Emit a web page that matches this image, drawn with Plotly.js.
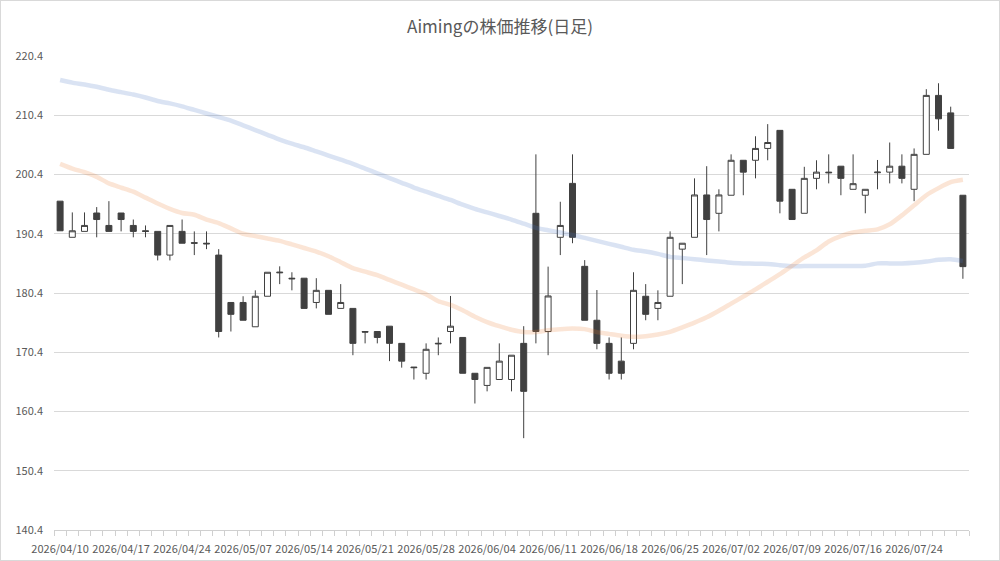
<!DOCTYPE html>
<html>
<head>
<meta charset="utf-8">
<script src="https://cdn.plot.ly/plotly-3.0.1.min.js"></script>
<style>
  html, body { margin:0; padding:0; background:#fff; }
  #wrap { position:relative; width:1000px; height:561px; }
  #chart { width:1000px; height:561px; }
  #frame { position:absolute; left:0; top:0; width:1000px; height:561px; box-sizing:border-box; border:1px solid #d9d9d9; pointer-events:none; }
</style>
</head>
<body>
<div id="wrap"><div id="chart"></div><div id="frame"></div></div>
<script>
const dates = ["2026/04/10","2026/04/13","2026/04/14","2026/04/15","2026/04/16","2026/04/17","2026/04/20","2026/04/21","2026/04/22","2026/04/23","2026/04/24","2026/04/27","2026/04/28","2026/04/30","2026/05/01","2026/05/07","2026/05/08","2026/05/11","2026/05/12","2026/05/13","2026/05/14","2026/05/15","2026/05/18","2026/05/19","2026/05/20","2026/05/21","2026/05/22","2026/05/25","2026/05/26","2026/05/27","2026/05/28","2026/05/29","2026/06/01","2026/06/02","2026/06/03","2026/06/04","2026/06/05","2026/06/08","2026/06/09","2026/06/10","2026/06/11","2026/06/12","2026/06/15","2026/06/16","2026/06/17","2026/06/18","2026/06/19","2026/06/22","2026/06/23","2026/06/24","2026/06/25","2026/06/26","2026/06/29","2026/06/30","2026/07/01","2026/07/02","2026/07/03","2026/07/06","2026/07/07","2026/07/08","2026/07/09","2026/07/10","2026/07/13","2026/07/14","2026/07/15","2026/07/16","2026/07/17","2026/07/21","2026/07/22","2026/07/23","2026/07/24","2026/07/27","2026/07/28","2026/07/29","2026/07/30"];

const open  = [195.9,189.8,190.8,193.9,191.8,193.9,191.8,190.9,190.8,186.8,190.8,188.9,188.8,186.8,178.8,178.8,174.7,179.85,183.8,182.9,182.9,178.8,180.85,177.8,177.8,173.9,173.9,174.8,171.9,167.9,166.85,171.8,173.9,172.9,166.85,164.8,165.8,165.8,171.9,193.85,173.9,189.8,198.9,184.9,175.8,171.9,168.9,171.9,179.85,177.8,179.85,187.8,189.8,196.95,193.85,196.9,202.8,202.8,204.8,207.85,197.9,193.85,199.75,200.8,201.8,197.9,196.9,200.7,200.8,201.8,197.9,203.8,213.75,210.8,196.9];
const high  = [195.9,194.0,194.0,194.9,195.9,193.9,192.8,191.8,190.8,191.8,192.8,190.8,190.8,187.8,178.8,179.85,180.85,183.9,184.9,183.9,182.9,182.9,180.85,181.9,177.8,173.9,173.9,174.8,171.9,167.9,171.9,172.9,179.9,172.9,166.85,167.85,171.9,169.9,174.8,203.8,184.85,195.8,203.8,185.95,180.9,172.9,172.9,183.9,181.9,180.85,190.8,188.8,199.75,201.8,197.9,203.8,202.8,206.85,208.9,207.85,197.9,201.7,202.8,203.8,201.8,203.8,197.9,202.85,205.8,203.8,204.8,214.8,215.8,211.85,196.9];
const low   = [190.9,189.8,190.8,189.8,190.8,190.8,189.8,189.8,185.9,185.9,188.8,186.8,187.8,172.9,173.9,175.8,174.7,179.85,181.9,180.85,177.8,177.8,176.8,177.8,169.9,171.9,171.9,168.9,167.8,165.8,165.8,169.9,171.9,166.85,161.75,163.8,165.8,163.8,155.9,171.9,169.9,186.8,188.8,175.8,170.9,165.8,165.8,170.9,175.8,175.8,179.85,181.9,189.8,186.8,190.8,196.9,196.9,199.75,202.8,193.85,192.8,193.85,197.9,198.9,196.9,197.9,193.85,197.9,198.9,198.9,195.9,203.8,207.8,204.8,182.8];
const close = [190.9,190.9,191.8,192.8,190.8,192.8,190.8,190.8,186.8,191.8,188.8,188.8,188.7,173.9,176.8,175.8,179.85,183.9,183.9,182.8,177.8,180.85,176.8,178.8,171.9,173.8,172.9,171.9,168.9,167.8,170.9,171.9,174.8,166.85,165.8,167.85,168.9,169.9,163.8,173.9,179.9,191.8,189.8,175.8,171.9,166.85,166.85,180.85,176.8,178.8,189.8,188.8,196.95,192.8,196.95,202.8,200.8,204.8,205.8,195.9,192.8,199.75,200.8,200.7,199.75,198.85,197.9,200.8,201.8,199.75,203.8,213.75,209.8,204.8,184.85];

const maLong  = [216.35,215.9,215.6,215.2,214.7,214.3,213.9,213.4,212.8,212.4,211.9,211.3,210.7,210.1,209.5,208.7,207.9,207.1,206.3,205.6,205.0,204.3,203.6,202.9,202.2,201.4,200.6,199.8,199.0,198.2,197.5,196.8,196.1,195.3,194.6,194.0,193.4,192.8,192.1,191.4,191.0,190.6,190.2,189.7,189.2,188.7,188.2,187.7,187.4,187.0,186.5,186.3,186.1,185.9,185.7,185.5,185.4,185.35,185.3,185.1,184.9,184.95,184.95,184.95,184.95,184.95,185.0,185.4,185.4,185.4,185.5,185.7,186.0,186.1,185.8];
const maShort = [202.2,201.4,200.8,200.0,198.9,198.2,197.5,196.5,195.5,194.6,193.9,193.6,192.8,192.2,191.3,190.4,190.0,189.6,189.2,188.6,188.0,187.4,186.6,185.6,184.6,184.0,183.4,182.6,181.8,181.0,180.2,179.0,178.4,177.5,176.4,175.5,174.8,174.2,173.8,173.8,174.1,174.3,174.4,174.3,173.8,173.5,173.2,173.0,173.1,173.4,173.85,174.6,175.4,176.3,177.4,178.6,179.8,181.0,182.3,183.6,185.0,186.4,187.6,189.1,190.0,190.6,190.9,191.15,192.0,193.5,195.2,196.9,198.1,199.1,199.5];

const tickValues = [0,5,10,15,20,25,30,35,40,45,50,55,60,65,70];
const tickLabels = tickValues.map(i => dates[i]);
const idx = dates.map((d, i) => i);

const traces = [
  {
    type: 'candlestick', x: idx, open: open, high: high, low: low, close: close,
    text: dates, hoverinfo: 'text',
    increasing: { line: { color: '#404040', width: 1 }, fillcolor: '#ffffff' },
    decreasing: { line: { color: '#404040', width: 1 }, fillcolor: '#404040' },
    whiskerwidth: 0, showlegend: false
  },
  {
    type: 'scatter', mode: 'lines', x: idx, y: maLong,
    line: { color: 'rgba(68,114,196,0.2)', width: 4.5, shape: 'spline', smoothing: 0.6 },
    hoverinfo: 'skip', showlegend: false
  },
  {
    type: 'scatter', mode: 'lines', x: idx, y: maShort,
    line: { color: 'rgba(237,125,49,0.2)', width: 4.5, shape: 'spline', smoothing: 0.6 },
    hoverinfo: 'skip', showlegend: false
  }
];

const layout = {
  width: 1000, height: 561,
  margin: { l: 54, r: 31, t: 56, b: 31 },
  paper_bgcolor: '#ffffff', plot_bgcolor: '#ffffff',
  font: { family: '"Noto Sans CJK JP", "Noto Sans", sans-serif', color: '#595959', size: 11 },
  title: { text: 'Aimingの株価推移(日足)', x: 0.5, xanchor: 'center', y: 0.952, yanchor: 'middle',
           font: { size: 17, color: '#595959', family: '"Noto Sans CJK JP", sans-serif' } },
  showlegend: false,
  xaxis: {
    type: 'linear', range: [-0.5, 74.5], fixedrange: true,
    rangeslider: { visible: false },
    tickmode: 'array', tickvals: tickValues, ticktext: tickLabels, tickangle: 0,
    ticks: '', showgrid: false, zeroline: false, ticklabelstandoff: 9,
    showline: true, linecolor: '#d0d0d0', linewidth: 1,
    tickfont: { size: 11, color: '#595959' },
    minor: { ticks: 'outside', tick0: -0.5, dtick: 1, ticklen: 5, tickcolor: '#d0d0d0', tickwidth: 1, showgrid: false }
  },
  yaxis: {
    range: [140.4, 220.4], tick0: 140.4, dtick: 10, tickformat: '.1f', fixedrange: true,
    showgrid: true, gridcolor: '#d9d9d9', gridwidth: 1, zeroline: false, showline: false,
    ticks: '', ticklabelstandoff: 10,
    tickfont: { size: 11, color: '#595959' }
  }
};

Plotly.newPlot('chart', traces, layout, { displayModeBar: false, staticPlot: true });
</script>
</body>
</html>
